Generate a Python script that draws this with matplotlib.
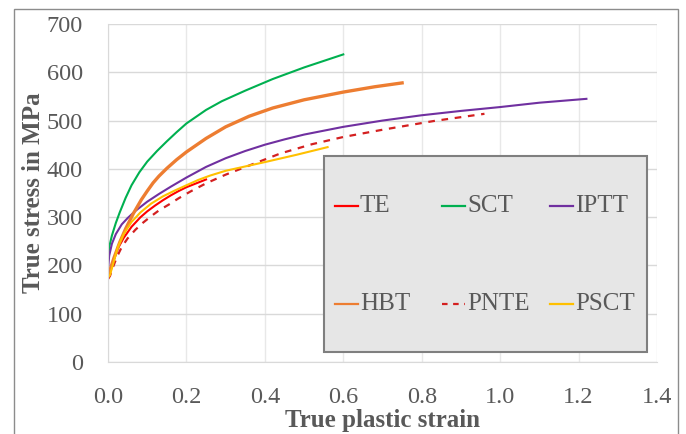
import matplotlib
matplotlib.use('Agg')
import matplotlib.pyplot as plt
from matplotlib.lines import Line2D
from matplotlib.patches import Rectangle

# True plastic strain / true stress (MPa)
te_strain = [0.0, 0.005, 0.012, 0.025, 0.04, 0.06, 0.083, 0.1, 0.12, 0.14, 0.16, 0.18, 0.2, 0.225, 0.25]
te_stress = [175, 183, 205, 235, 257, 280, 300, 312, 324, 335, 345, 354, 362, 370, 378]

sct_strain = [0.0, 0.003, 0.01, 0.02, 0.03, 0.045, 0.06, 0.08, 0.1, 0.125, 0.15, 0.175, 0.2,
              0.25, 0.29, 0.35, 0.42, 0.5, 0.6]
sct_stress = [210, 238, 262, 288, 310, 340, 366, 393, 415, 437, 457, 476, 494,
              522, 540, 562, 586, 610, 637]

iptt_strain = [0.0, 0.003, 0.01, 0.02, 0.035, 0.05, 0.07, 0.1, 0.13, 0.16, 0.2, 0.25, 0.3, 0.35,
               0.4, 0.45, 0.5, 0.6, 0.7, 0.8, 0.9, 1.0, 1.1, 1.22]
iptt_stress = [190, 220, 245, 265, 285, 298, 313, 332, 348, 363, 382, 404, 422, 437,
               450, 461, 471, 487, 500, 511, 520, 528, 537, 545]

hbt_strain = [0.0, 0.005, 0.015, 0.03, 0.045, 0.065, 0.085, 0.1, 0.115, 0.13, 0.15, 0.175, 0.2,
              0.25, 0.3, 0.36, 0.42, 0.5, 0.6, 0.68, 0.75]
hbt_stress = [176, 190, 215, 248, 276, 308, 336, 354, 371, 385, 401, 419, 435,
              463, 487, 509, 526, 543, 559, 570, 578]

pnte_strain = [0.0, 0.005, 0.012, 0.023, 0.035, 0.05, 0.07, 0.09, 0.11, 0.13, 0.155, 0.18, 0.21,
               0.25, 0.3, 0.37, 0.44, 0.52, 0.6, 0.7, 0.83, 0.96]
pnte_stress = [172, 178, 195, 218, 238, 256, 274, 289, 302, 314, 326, 339, 353,
               370, 388, 410, 432, 451, 466, 481, 499, 514]

psct_strain = [0.0, 0.005, 0.012, 0.025, 0.04, 0.06, 0.083, 0.11, 0.14, 0.17, 0.2, 0.23, 0.26,
               0.3, 0.35, 0.4, 0.48, 0.56]
psct_stress = [175, 180, 200, 238, 265, 290, 310, 328, 343, 355, 366, 377, 386,
               396, 405, 414, 429, 445]

labels = ['TE', 'SCT', 'IPTT', 'HBT', 'PNTE', 'PSCT']
colors = ['#ff0000', '#00b050', '#7030a0', '#ed7d31', '#d42020', '#ffc000']
styles = ['-', '-', '-', '-', (0, (3, 3)), '-']
widths = [1.5, 1.5, 1.5, 2.4, 1.6, 1.5]

series = [(te_strain, te_stress), (sct_strain, sct_stress), (iptt_strain, iptt_stress),
          (hbt_strain, hbt_stress), (pnte_strain, pnte_stress), (psct_strain, psct_stress)]

plt.rcParams['font.family'] = ['Liberation Serif', 'DejaVu Serif']
text_col = '#595959'

fig = plt.figure(figsize=(6.86, 4.34), dpi=100)
ax = fig.add_axes([108 / 686, 1 - 362 / 434, 549 / 686, 338 / 434])

for (x, y), lab, c, ls, lw in zip(series, labels, colors, styles, widths):
    ax.plot(x, y, color=c, linestyle=ls, linewidth=lw, label=lab)

ax.set_xlim(0, 1.4)
ax.set_ylim(0, 700)
ax.set_xticks([0.0, 0.2, 0.4, 0.6, 0.8, 1.0, 1.2, 1.4])
ax.set_yticks(range(0, 701, 100))
ax.set_xticklabels(['%.1f' % v for v in ax.get_xticks()])
ax.tick_params(length=0, labelsize=17.5, labelcolor=text_col)
ax.tick_params(axis='x', pad=18)
ax.tick_params(axis='y', pad=18)
ax.grid(axis='y', color='#d9d9d9', linewidth=1)
ax.grid(axis='x', color='#e8e8e8', linewidth=1)
ax.set_axisbelow(True)
for s in ['top', 'right']:
    ax.spines[s].set_visible(False)
for s in ['left', 'bottom']:
    ax.spines[s].set_color('#d9d9d9')

ax.set_xlabel('True plastic strain', fontsize=18, fontweight='bold', color=text_col, labelpad=1)
ax.set_ylabel('True stress in MPa', fontsize=18, fontweight='bold', color=text_col, labelpad=1.5)

# legend box drawn by hand to match the spacing of the original
leg_l, leg_b, leg_r, leg_t = 324 / 686, 1 - 352 / 434, 647 / 686, 1 - 156 / 434
fig.patches.append(Rectangle((leg_l, leg_b), leg_r - leg_l, leg_t - leg_b, transform=fig.transFigure,
                             facecolor='#e6e6e6', edgecolor='#7f7f7f', linewidth=1.5, zorder=5))
col_x = [335 / 686, 442 / 686, 550 / 686]
row_y = [1 - 206 / 434, 1 - 304 / 434]
hl = 23 / 686
for i, (lab, c, ls) in enumerate(zip(labels, colors, styles)):
    x0 = col_x[i % 3]
    y0 = row_y[i // 3]
    fig.lines.append(Line2D([x0, x0 + hl], [y0, y0], transform=fig.transFigure, color=c,
                            linestyle=ls if ls == '-' else (0, (2.5, 2.5)), linewidth=1.6, zorder=6))
    fig.text(x0 + hl + 2 / 686, y0, lab, fontsize=18, color=text_col, va='center', ha='left', zorder=6)

# outer chart border
fig.patches.append(Rectangle((14 / 686, -0.01), 664 / 686, 1 - 9 / 434 + 0.01, transform=fig.transFigure,
                             facecolor='none', edgecolor='#8c8c8c', linewidth=1, zorder=0))

fig.savefig('out.png', dpi=100)
